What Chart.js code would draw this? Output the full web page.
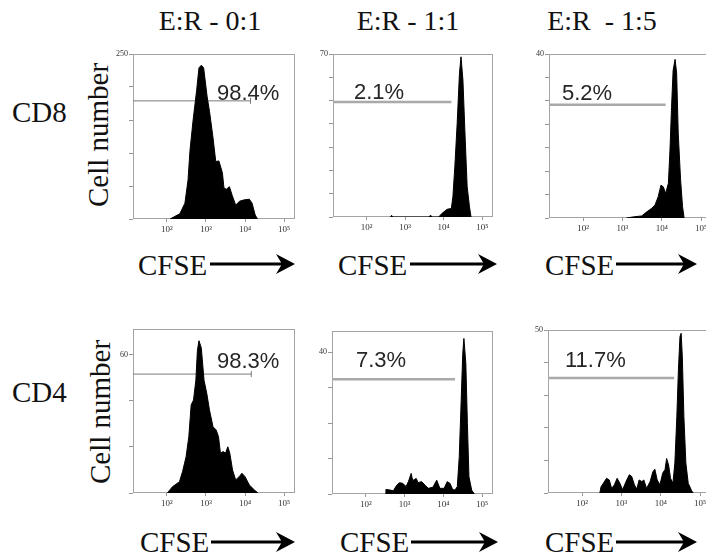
<!DOCTYPE html>
<html>
<head>
<meta charset="utf-8">
<script src="https://cdn.jsdelivr.net/npm/chart.js@4.4.1/dist/chart.umd.min.js"></script>
<style>
  html, body { margin: 0; padding: 0; background: #fff; }
  body { position: relative; width: 706px; height: 556px; overflow: hidden; }
  canvas { position: absolute; }
  .t { position: absolute; white-space: pre; line-height: 1; color: #111; }
  svg { position: absolute; left: 0; top: 0; }
</style>
</head>
<body>
<svg id="arrows" width="706" height="556"></svg>
<script>
// Axe x en log10(CFSE), graduations 10^2 .. 10^5
const xMin = 1.13;
const xMax = 5.28;
const xTicks = [2, 3, 4, 5];
const xTickLabels = ['10²', '10³', '10⁴', '10⁵'];

const columnTitles = ['E:R - 0:1', 'E:R - 1:1', 'E:R  - 1:5'];
const rowLabels = ['CD8', 'CD4'];

// CD8, E:R 0:1
const cd8R01X = [2.08, 2.33, 2.46, 2.54, 2.59, 2.67, 2.76, 2.82, 2.88, 2.94, 3.03, 3.09, 3.18, 3.25, 3.33, 3.42, 3.46, 3.52, 3.60, 3.67, 3.76, 3.86, 3.98, 4.11, 4.18, 4.26, 4.32];
const cd8R01Y = [0, 8, 24, 59, 104, 150, 195, 229, 233, 229, 185, 163, 123, 87, 88, 70, 47, 45, 49, 36, 21, 27, 29, 30, 24, 6, 0];
// CD8, E:R 1:1
const cd8R11X = [2.62, 2.65, 2.68, 3.62, 3.66, 3.70, 3.87, 3.96, 4.09, 4.20, 4.24, 4.29, 4.35, 4.41, 4.45, 4.50, 4.56, 4.61, 4.67, 4.71];
const cd8R11Y = [0, 0.7, 0, 0, 0.8, 0, 0, 1.6, 3.3, 3.7, 8.7, 21.6, 40, 61.7, 68.8, 58.8, 33, 13, 4.4, 0];
// CD8, E:R 1:5
const cd8R15X = [3.10, 3.30, 3.49, 3.62, 3.75, 3.83, 3.91, 3.98, 4.04, 4.10, 4.17, 4.21, 4.25, 4.29, 4.34, 4.38, 4.42, 4.48, 4.53, 4.57];
const cd8R15Y = [0, 0.3, 0.5, 1.5, 2.4, 3.2, 5.2, 8, 7.6, 6, 8.5, 16.6, 27, 36, 38.7, 35.3, 20.7, 9.3, 2.8, 0];
// CD4, E:R 0:1
const cd4R01X = [2.01, 2.14, 2.32, 2.40, 2.49, 2.56, 2.62, 2.68, 2.74, 2.78, 2.82, 2.88, 2.95, 3.02, 3.09, 3.18, 3.26, 3.32, 3.37, 3.44, 3.50, 3.56, 3.61, 3.68, 3.76, 3.85, 3.92, 4.00, 4.11, 4.24, 4.33];
const cd4R01Y = [0, 2.7, 4.9, 9.3, 15.8, 24.5, 38.3, 40.4, 49, 62, 66.2, 63, 49, 43.3, 36, 28.8, 27.4, 24.5, 17.3, 18, 17.3, 20.1, 17.3, 10, 5.7, 7.1, 8.6, 7.1, 3.5, 1.3, 0];
// CD4, E:R 1:1
const cd4R11X = [2.50, 2.52, 2.63, 2.71, 2.80, 2.87, 2.95, 3.04, 3.10, 3.17, 3.21, 3.30, 3.35, 3.44, 3.53, 3.61, 3.73, 3.83, 3.91, 4.02, 4.10, 4.17, 4.24, 4.30, 4.36, 4.41, 4.46, 4.50, 4.53, 4.58, 4.62, 4.66, 4.73, 4.80];
const cd4R11Y = [0, 1.3, 1.1, 0.9, 2.5, 3.2, 3.0, 2.1, 3.5, 5.8, 3.8, 4.4, 3.2, 3.5, 2.5, 1.6, 1.9, 3.9, 1.6, 1.6, 3.5, 3.0, 1.3, 1.1, 2.1, 10.5, 26.5, 39.6, 43.9, 36.8, 19.9, 4.9, 1.1, 0];
// CD4, E:R 1:5
const cd4R15X = [2.45, 2.48, 2.54, 2.62, 2.69, 2.75, 2.82, 2.89, 2.96, 3.03, 3.12, 3.20, 3.26, 3.33, 3.39, 3.45, 3.52, 3.57, 3.64, 3.73, 3.80, 3.85, 3.91, 3.98, 4.05, 4.11, 4.15, 4.20, 4.25, 4.31, 4.36, 4.41, 4.45, 4.49, 4.52, 4.55, 4.59, 4.64, 4.70, 4.79, 4.83];
const cd4R15Y = [0, 1.9, 3.0, 4.5, 4.0, 1.4, 2.5, 4.5, 3.0, 1.0, 3.6, 5.6, 5.1, 2.5, 1.2, 4.0, 3.5, 4.0, 1.4, 3.5, 6.5, 7.3, 4.0, 2.5, 6.1, 7.2, 10.6, 8.6, 4.5, 3.0, 9.2, 23.4, 37.7, 48, 49, 41.8, 23.4, 9.2, 3.0, 0.6, 0];

// Portes (gates) : libellé, hauteur, fin
const gateLabels = ['98.4%', '2.1%', '5.2%', '98.3%', '7.3%', '11.7%'];
const gateY = [179, 49.4, 27.6, 51.7, 32.4, 35.3];
const gateEnd = [4.14, 4.20, 4.10, 4.16, 4.30, 4.34];

// Axes y
const yMax = [250, 70, 40, 71.3, 46, 50];
const yTicks = [
    [0, 50, 100, 150, 200, 250],
    [0, 10, 20, 30, 40, 50, 60, 70],
    [0, 5.71, 11.43, 17.14, 22.86, 28.57, 34.29, 40],
    [0, 20, 40, 60],
    [0, 10, 20, 30, 40],
    [0, 10, 20, 30, 40, 50],
];
const yLabelAt = [250, 70, 40, 60, 40, 50];

const series = [
    [cd8R01X, cd8R01Y], [cd8R11X, cd8R11Y], [cd8R15X, cd8R15Y],
    [cd4R01X, cd4R01Y], [cd4R11X, cd4R11Y], [cd4R15X, cd4R15Y],
];

// mise en page (pixels de la page)
const frames = [
    { left: 133, top: 54, w: 163, h: 165 },
    { left: 333, top: 54, w: 160, h: 163 },
    { left: 549, top: 54, w: 163, h: 164 },
    { left: 133, top: 329, w: 163, h: 164 },
    { left: 332, top: 331, w: 161, h: 163 },
    { left: 548, top: 330, w: 163, h: 163 },
];
const gateLabelPos = [[217, 101], [354, 100], [562, 101], [217, 369], [356, 368], [565, 368]];
const padL = 30, padR = 4, padT = 6, padB = 22;

const SERIF = "'Liberation Serif', 'Times New Roman', serif";
const SANS = "'Liberation Sans', Arial, sans-serif";

function addText(txt, x, baseline, size, family, opts = {}) {
    const d = document.createElement('div');
    d.className = 't';
    d.textContent = txt;
    d.style.fontFamily = family;
    d.style.fontSize = size + 'px';
    const asc = family === SANS ? 0.8465 : 0.8375;
    d.style.top = (baseline - asc * size) + 'px';
    d.style.left = x + 'px';
    if (opts.center) d.style.transform = 'translateX(-50%)';
    if (opts.color) d.style.color = opts.color;
    document.body.appendChild(d);
    return d;
}

function addRotated(txt, cx, cy, size) {
    const d = document.createElement('div');
    d.className = 't';
    d.textContent = txt;
    d.style.fontFamily = SERIF;
    d.style.fontSize = size + 'px';
    d.style.left = cx + 'px';
    d.style.top = cy + 'px';
    d.style.transform = 'translate(-50%, -50%) rotate(-90deg)';
    document.body.appendChild(d);
}

const framePlugin = {
    id: 'frame',
    beforeDatasetsDraw(chart) {
        const { ctx, chartArea: a } = chart;
        ctx.save();
        ctx.strokeStyle = '#a4a4a4';
        ctx.lineWidth = 1;
        ctx.strokeRect(a.left + 0.5, a.top + 0.5, a.right - a.left - 1, a.bottom - a.top - 1);
        ctx.restore();
    },
};

function makePanel(i) {
    const f = frames[i];
    const cv = document.createElement('canvas');
    cv.width = f.w + padL + padR;
    cv.height = f.h + padT + padB;
    cv.style.left = (f.left - padL) + 'px';
    cv.style.top = (f.top - padT) + 'px';
    document.body.appendChild(cv);

    const [xs, ys] = series[i];
    const pts = xs.map((x, k) => ({ x, y: ys[k] }));
    const thinGate = i === 0 || i === 3;

    new Chart(cv, {
        type: 'line',
        data: {
            datasets: [{
                data: pts,
                borderColor: '#000',
                backgroundColor: '#000',
                borderWidth: 1,
                fill: 'origin',
                pointRadius: 0,
                tension: 0,
                order: 0,
            }, {
                data: [{ x: xMin, y: gateY[i] }, { x: gateEnd[i], y: gateY[i] }],
                borderColor: thinGate ? '#7a7a7a' : '#a9a9a9',
                borderWidth: thinGate ? 1 : 2.5,
                fill: false,
                pointStyle: 'line',
                rotation: 90,
                pointRadius: thinGate ? [0, 3] : 0,
                pointBorderColor: '#7a7a7a',
                pointBorderWidth: 1,
                order: 1,
            }],
        },
        options: {
            responsive: false,
            animation: false,
            events: [],
            layout: { padding: { top: padT, right: padR, left: 0, bottom: 0 } },
            plugins: { legend: { display: false }, tooltip: { enabled: false } },
            scales: {
                x: {
                    type: 'linear',
                    min: xMin,
                    max: xMax,
                    afterBuildTicks: s => { s.ticks = xTicks.map(v => ({ value: v })); },
                    afterFit: s => { s.height = padB; },
                    ticks: {
                        callback: v => xTickLabels[xTicks.indexOf(v)] ?? '',
                        font: { family: SERIF, size: 9 },
                        color: '#333',
                        padding: 2,
                        maxRotation: 0,
                        autoSkip: false,
                    },
                    grid: { drawOnChartArea: false, tickLength: 3, color: '#999' },
                    border: { display: false },
                },
                y: {
                    min: 0,
                    max: yMax[i],
                    afterBuildTicks: s => { s.ticks = yTicks[i].map(v => ({ value: v })); },
                    afterFit: s => { s.width = padL; },
                    ticks: {
                        callback: v => (v === yLabelAt[i] ? String(v) : ''),
                        font: { family: SERIF, size: 8 },
                        color: '#333',
                        padding: 1,
                        autoSkip: false,
                    },
                    grid: { drawOnChartArea: false, tickLength: 4, color: '#999' },
                    border: { display: false },
                },
            },
        },
        plugins: [framePlugin],
    });

    const [lx, lb] = gateLabelPos[i];
    addText(gateLabels[i], lx, lb, 22, SANS, { color: '#262626' });
}

// textes
const titleX = [210, 408, 602];
columnTitles.forEach((t, c) => addText(t, titleX[c], 30, 28, SERIF, { center: true }));
addText(rowLabels[0], 12, 122, 29, SERIF);
addText(rowLabels[1], 12, 402, 29, SERIF);
addRotated('Cell number', 98, 135, 29);
addRotated('Cell number', 100, 412, 29);

const cfsePos = [[138, 275], [338, 275], [545, 275], [140, 552], [340, 552], [545, 552]];
cfsePos.forEach(([x, b]) => addText('CFSE', x, b, 29, SERIF));

// flèches
const arrows = [[210, 295, 264], [410, 497, 264], [616, 697, 264], [211, 295, 542], [411, 498, 542], [616, 697, 542]];
const svg = document.getElementById('arrows');
let svgHtml = '';
arrows.forEach(([x0, x1, y]) => {
    svgHtml += `<line x1="${x0}" y1="${y}" x2="${x1 - 8}" y2="${y}" stroke="#000" stroke-width="3"/>`;
    svgHtml += `<path d="M${x1} ${y} L${x1 - 19} ${y - 10} L${x1 - 13} ${y} L${x1 - 19} ${y + 10} Z" fill="#000"/>`;
});
svg.innerHTML = svgHtml;

document.addEventListener('DOMContentLoaded', () => {
    for (let i = 0; i < 6; i++) makePanel(i);
});
</script>
</body>
</html>
